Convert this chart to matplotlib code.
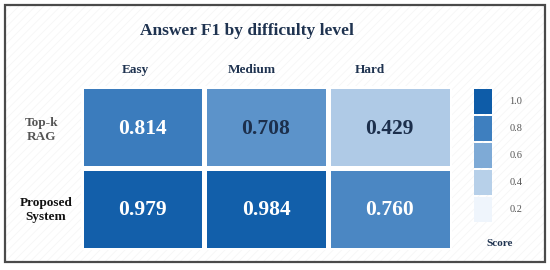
import matplotlib
matplotlib.use("Agg")
import matplotlib.pyplot as plt
import numpy as np
from matplotlib.colors import LinearSegmentedColormap
from matplotlib.patches import Rectangle

systems = ["Top-k\nRAG", "Proposed\nSystem"]
levels = ["Easy", "Medium", "Hard"]
scores = [[0.814, 0.708, 0.429],
          [0.979, 0.984, 0.760]]
legend_ticks = [1.0, 0.8, 0.6, 0.4, 0.2]
title = "Answer F1 by difficulty level"

plt.rcParams['font.family'] = ['Liberation Serif', 'DejaVu Serif']
plt.rcParams['hatch.linewidth'] = 0.5

W, H = 550, 270
fig = plt.figure(figsize=(W / 100, H / 100), dpi=100)
fig.patch.set_facecolor('white')

def fx(x):
    return x / W

def fy(y):
    return 1 - y / H

# background hatch + border
bg = Rectangle((fx(5), fy(262)), fx(540), 257 / H, transform=fig.transFigure,
               facecolor='white', edgecolor='#f5f5f5', hatch='////', lw=0, zorder=-5)
fig.patches.append(bg)
border = Rectangle((fx(5), fy(262)), fx(540), 257 / H, transform=fig.transFigure,
                   facecolor='none', edgecolor='#4a4a4a', lw=1.6, zorder=5)
fig.patches.append(border)

cmap = LinearSegmentedColormap.from_list(
    'blues_q',
    [(0.0, '#eff5fc'), (0.25, '#b7d0e9'), (0.5, '#7eaad6'), (0.75, '#3f7fbf'), (1.0, '#0e5ca8')])
vmin, vmax = 0.2, 1.0

# heatmap
ax = fig.add_axes([fx(80.5), fy(249.5), fx(371), 163 / H])
ax.set_zorder(2)
data = np.array(scores)
ax.pcolormesh(np.arange(len(levels) + 1), np.arange(len(systems) + 1), data,
              cmap=cmap, vmin=vmin, vmax=vmax, edgecolor='white', linewidth=2.3)
ax.set_xlim(0, len(levels))
ax.set_ylim(len(systems), 0)
ax.axis('off')
for i in range(len(systems)):
    for j in range(len(levels)):
        v = scores[i][j]
        col = 'white' if v >= 0.75 else '#1c2f4c'
        ax.text(j + 0.5, i + 0.52, f"{v:.3f}", ha='center', va='center',
                fontsize=15.5, fontweight='bold', color=col)

# title
fig.text(fx(247), fy(31), title, ha='center', va='center', fontsize=12.5,
         fontweight='bold', color='#1f3350')

# column labels
col_x = [135, 252, 370]
for lab, x in zip(levels, col_x):
    fig.text(fx(x), fy(70), lab, ha='center', va='center', fontsize=9.5,
             fontweight='bold', color='#1f3350')

# row labels
fig.text(fx(41.5), fy(130), systems[0], ha='center', va='center', fontsize=9.5,
         fontweight='bold', color='#555555', linespacing=1.25)
fig.text(fx(46), fy(210), systems[1], ha='center', va='center', fontsize=9.5,
         fontweight='bold', color='#111111', linespacing=1.25)

# legend
lax = fig.add_axes([fx(472), fy(223), fx(60), 136 / H])
lax.set_zorder(2)
lax.set_xlim(0, 60)
lax.set_ylim(136, 0)
lax.axis('off')
for k, t in enumerate(legend_ticks):
    top = 1.5 + k * 27.2
    lax.add_patch(Rectangle((2, top), 18, 25, facecolor=cmap((t - vmin) / (vmax - vmin)),
                            edgecolor='none'))
    lax.text(44, top + 12.5, f"{t:.1f}", ha='center', va='center', fontsize=7.5,
             color='#555555')

fig.text(fx(500), fy(243), "Score", ha='center', va='center', fontsize=8,
         fontweight='bold', color='#1f3350')

fig.savefig('out.png', dpi=100, facecolor='white')
